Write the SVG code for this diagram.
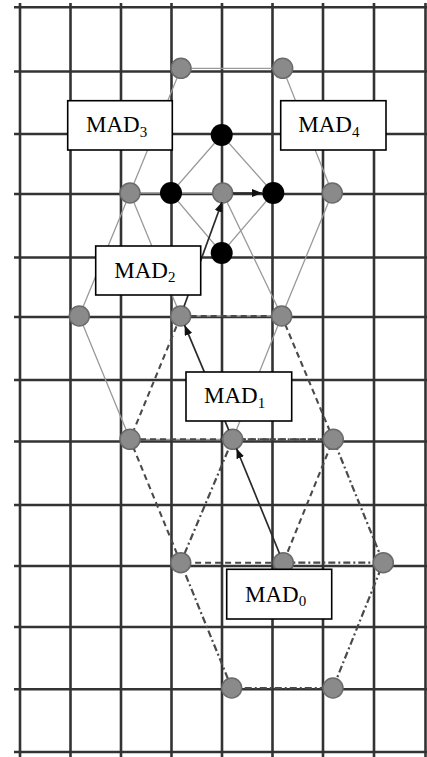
<svg xmlns="http://www.w3.org/2000/svg" width="427" height="757" viewBox="0 0 427 757">
<style>
.grid line{stroke:#333;stroke-width:2.6}
.thin{stroke:#9a9a9a;stroke-width:1.3;fill:none}
.dash{stroke:#4a4a4a;stroke-width:2.1;fill:none;stroke-dasharray:6 4}
.dashdot{stroke:#4a4a4a;stroke-width:2.2;fill:none;stroke-dasharray:7 3 2 3}
.arrow{stroke:#2a2a2a;stroke-width:1.7;fill:none;marker-end:url(#ah)}
.g{fill:#8a8a8a;stroke:#6a6a6a;stroke-width:1.5}
.b{fill:#000}
.lbl rect{fill:#fff;stroke:#000;stroke-width:1.6}
.lbl text{font-family:"Liberation Serif","Times New Roman",serif;font-size:23px;fill:#000}
.lbl tspan{font-size:15px}
</style>
<defs>
<marker id="ah" markerUnits="userSpaceOnUse" markerWidth="10" markerHeight="8" refX="10" refY="4" orient="auto">
<path d="M0,0 L10,4 L0,8 z" fill="#111"/>
</marker>
</defs>
<rect width="427" height="757" fill="#fff"/>
<g class="grid">
<line x1="14" y1="7.3" x2="427" y2="7.3"/>
<line x1="14" y1="71.5" x2="427" y2="71.5"/>
<line x1="14" y1="134" x2="427" y2="134"/>
<line x1="14" y1="194" x2="427" y2="194"/>
<line x1="14" y1="257.5" x2="427" y2="257.5"/>
<line x1="14" y1="317" x2="427" y2="317"/>
<line x1="14" y1="380" x2="427" y2="380"/>
<line x1="14" y1="441.5" x2="427" y2="441.5"/>
<line x1="14" y1="505" x2="427" y2="505"/>
<line x1="14" y1="566" x2="427" y2="566"/>
<line x1="14" y1="627" x2="427" y2="627"/>
<line x1="14" y1="689.3" x2="427" y2="689.3"/>
<line x1="14" y1="752" x2="427" y2="752"/>
<line x1="20" y1="3" x2="20" y2="757"/>
<line x1="70.5" y1="3" x2="70.5" y2="757"/>
<line x1="121" y1="3" x2="121" y2="757"/>
<line x1="171.5" y1="3" x2="171.5" y2="757"/>
<line x1="222" y1="3" x2="222" y2="757"/>
<line x1="272.5" y1="3" x2="272.5" y2="757"/>
<line x1="323" y1="3" x2="323" y2="757"/>
<line x1="374" y1="3" x2="374" y2="757"/>
<line x1="425.5" y1="3" x2="425.5" y2="757"/>
</g>
<g id="connectors">
<polygon class="thin" points="130,193 181,68.3 282.7,68.3 332.3,193 281.7,316 180.7,316"/>
<polygon class="thin" points="79.3,316 130,193 222.7,193 281.7,316 232.7,439.3 130,439.3"/>
<polygon class="thin" points="221.7,135 171,193 221.7,253 273.3,193"/>
<polygon class="dash" points="180.7,316 281.7,316 333.3,439.3 283.3,562.7 180.7,562.7 130,439.3"/>
<line class="dash" x1="130" y1="439.3" x2="333.3" y2="439.3"/>
<polygon class="dashdot" points="232.7,439.3 333.3,439.3 383.3,562.7 333,688 231.7,688 180.7,562.7"/>
<line class="dashdot" x1="283.3" y1="562.7" x2="383.3" y2="562.7"/>
</g>
<g id="nodes">
<circle id="n1" class="g" cx="181" cy="68.3" r="10"/>
<circle id="n2" class="g" cx="282.7" cy="68.3" r="10"/>
<circle id="n3" class="b" cx="221.7" cy="135" r="11"/>
<circle id="n4" class="g" cx="130" cy="193" r="10"/>
<circle id="n5" class="b" cx="171" cy="193" r="11"/>
<circle id="n6" class="g" cx="222.7" cy="193" r="10"/>
<circle id="n7" class="b" cx="273.3" cy="193" r="11"/>
<circle id="n8" class="g" cx="332.3" cy="193" r="10"/>
<circle id="n9" class="b" cx="221.7" cy="253" r="11"/>
<circle id="n10" class="g" cx="79.3" cy="316" r="10"/>
<circle id="n11" class="g" cx="180.7" cy="316" r="10"/>
<circle id="n12" class="g" cx="281.7" cy="316" r="10"/>
<circle id="n13" class="g" cx="130" cy="439.3" r="10"/>
<circle id="n14" class="g" cx="232.7" cy="439.3" r="10"/>
<circle id="n15" class="g" cx="333.3" cy="439.3" r="10"/>
<circle id="n16" class="g" cx="180.7" cy="562.7" r="10"/>
<circle id="n17" class="g" cx="283.3" cy="562.7" r="10"/>
<circle id="n18" class="g" cx="383.3" cy="562.7" r="10"/>
<circle id="n19" class="g" cx="231.7" cy="688" r="10"/>
<circle id="n20" class="g" cx="333" cy="688" r="10"/>
</g>
<g id="arrows">
<line class="arrow" x1="279.5" y1="553.5" x2="236.5" y2="448.5"/>
<line class="arrow" x1="228.8" y1="430.1" x2="184.6" y2="325.2"/>
<line class="arrow" x1="184" y1="306.5" x2="222" y2="202"/>
<line class="arrow" x1="233" y1="193" x2="262" y2="193"/>
</g>
<g id="label-mad3" class="lbl"><rect x="67.7" y="100.7" width="104.6" height="49.3"/><text x="86" y="132.3">MAD<tspan dy="4.5">3</tspan></text></g>
<g id="label-mad4" class="lbl"><rect x="280.7" y="100.7" width="105.3" height="49.3"/><text x="298.3" y="132.3">MAD<tspan dy="4.5">4</tspan></text></g>
<g id="label-mad2" class="lbl"><rect x="95.7" y="246" width="105" height="49"/><text x="114.3" y="277.7">MAD<tspan dy="4.5">2</tspan></text></g>
<g id="label-mad1" class="lbl"><rect x="186" y="372" width="105.7" height="49"/><text x="204" y="403.3">MAD<tspan dy="4.5">1</tspan></text></g>
<g id="label-mad0" class="lbl"><rect x="226.7" y="569.3" width="105" height="49.7"/><text x="245" y="601.7">MAD<tspan dy="4.5">0</tspan></text></g>
</svg>
